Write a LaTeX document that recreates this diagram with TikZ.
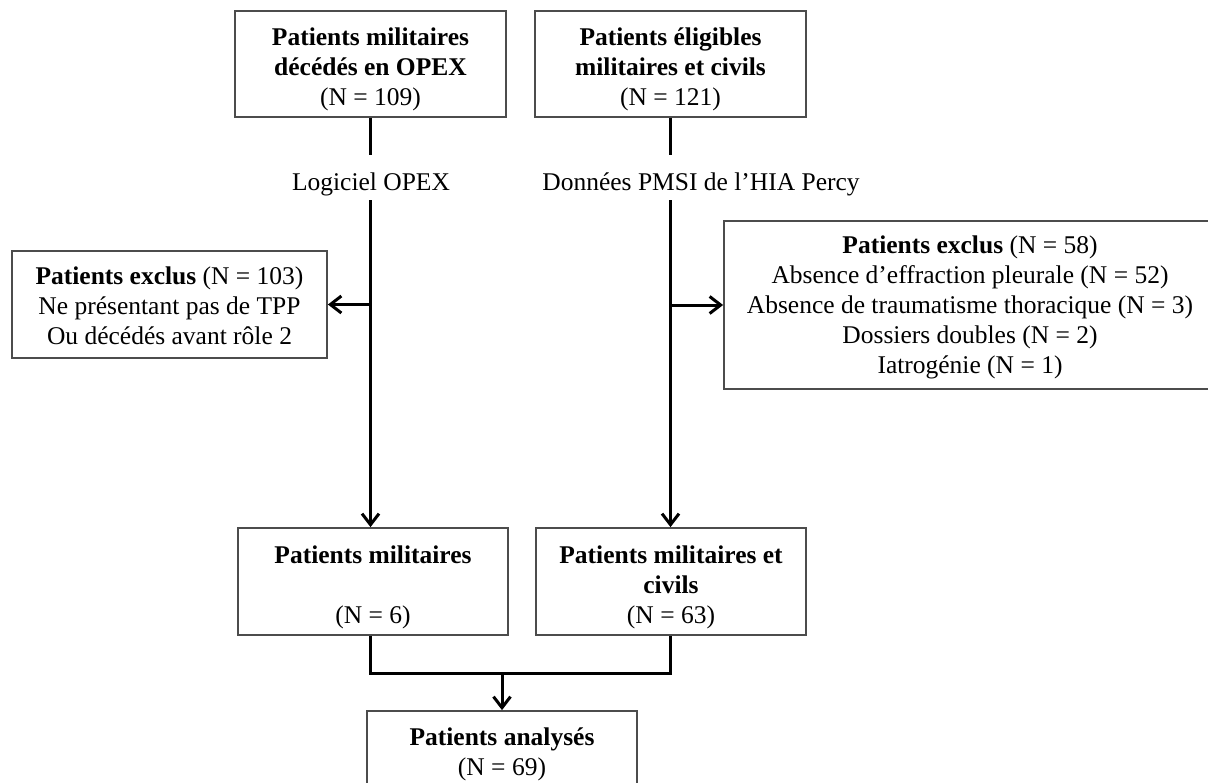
\documentclass[tikz,border=0pt]{standalone}
\usepackage{fontspec}
\setmainfont{Liberation Serif}
\usetikzlibrary{arrows.meta}
\newcommand\toppad[1]{\rule{0pt}{#1}}
\begin{document}
\begin{tikzpicture}[x=0.5pt,y=-0.5pt,
  box/.style={draw=black!70, line width=0.9pt, align=center, inner sep=0pt,
    font=\fontsize{12.75}{15}\selectfont},
  lbl/.style={inner sep=0pt, font=\fontsize{12.75}{15}\selectfont},
  conn/.style={line width=1.5pt, draw=black},
  arr/.style={conn, -{Straight Barb[length=5.5pt,width=8.5pt]}}]
\clip (0,0) rectangle (1208,782);
\fill[white] (0,0) rectangle (1208,782);
% boxes
\node[box, minimum width=135.5pt, minimum height=53pt] (tl) at (370.5,64)
  {\toppad{14pt}\textbf{Patients militaires}\\\textbf{décédés en OPEX}\\(N = 109)};
\node[box, minimum width=135.5pt, minimum height=53pt] (tr) at (670.5,64)
  {\toppad{14pt}\textbf{Patients éligibles}\\\textbf{militaires et civils}\\(N = 121)};
\node[lbl, anchor=base, text height=17.5pt, text depth=5pt] (l1) at (371,190) {Logiciel OPEX};
\node[lbl, anchor=base west, text height=17.5pt, text depth=5pt] (l2) at (542,190) {Données PMSI de l’HIA Percy};
\node[box, minimum width=157.5pt, minimum height=53.5pt] (el) at (169.5,304.5)
  {\toppad{10.5pt}\textbf{Patients exclus} (N = 103)\\Ne présentant pas de TPP\\Ou décédés avant rôle 2};
\node[box, minimum width=246pt, minimum height=84pt] (er) at (970,305)
  {\toppad{11pt}\textbf{Patients exclus} (N = 58)\\Absence d’effraction pleurale (N = 52)\\Absence de traumatisme thoracique (N = 3)\\Dossiers doubles (N = 2)\\Iatrogénie (N = 1)};
\node[box, minimum width=135pt, minimum height=53.5pt] (bl) at (373,581.5)
  {\toppad{14.5pt}\textbf{Patients militaires}\\\strut\\(N = 6)};
\node[box, minimum width=135pt, minimum height=53.5pt] (br) at (671,581.5)
  {\toppad{14.5pt}\textbf{Patients militaires et}\\\textbf{civils}\\(N = 63)};
\node[box, minimum width=135pt, minimum height=39pt] (fn) at (502,750)
  {\toppad{13pt}\textbf{Patients analysés}\\(N = 69)};
% connectors
\draw[conn] (tl.south) -- (tl.south |- l1.north);
\draw[conn] (tr.south) -- (tr.south |- l2.north);
\coordinate (lt) at (tl.south |- l1.south);
\coordinate (rt) at (tr.south |- l2.south);
\draw[arr] (lt) -- (lt |- bl.north);
\draw[arr] (lt |- el.east) -- (el.east);
\draw[arr] (rt) -- (rt |- br.north);
\draw[arr] (rt |- er.west) -- (er.west);
\coordinate (mj) at (502,673);
\draw[conn] (bl.south -| lt) |- (mj) -| (br.south -| rt);
\draw[arr] (mj) -- (fn.north);
\end{tikzpicture}
\end{document}
